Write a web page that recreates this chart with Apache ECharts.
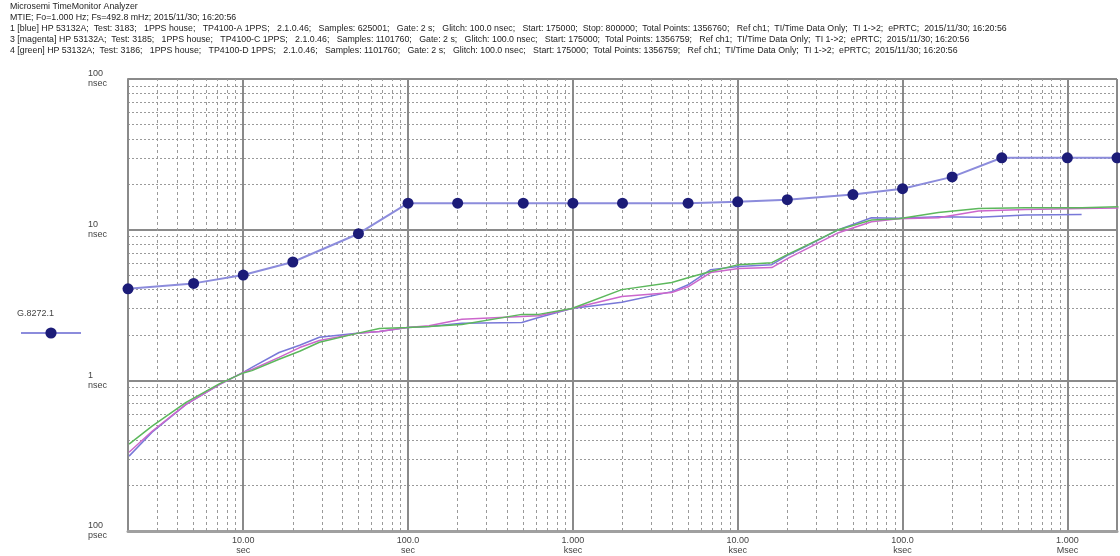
<!DOCTYPE html>
<html><head><meta charset="utf-8">
<script src="https://cdn.jsdelivr.net/npm/echarts@6/dist/echarts.min.js"></script>
<style>html,body{margin:0;padding:0;background:#fff}#c{width:1120px;height:556px}</style>
</head><body><div id="c"></div>
<script>
// ---- header text ----
const headerLines = [
  'Microsemi TimeMonitor Analyzer',
  'MTIE; Fo=1.000 Hz; Fs=492.8 mHz; 2015/11/30; 16:20:56',
  '1 [blue] HP 53132A;  Test: 3183;   1PPS house;   TP4100-A 1PPS;   2.1.0.46;   Samples: 625001;   Gate: 2 s;   Glitch: 100.0 nsec;   Start: 175000;  Stop: 800000;  Total Points: 1356760;   Ref ch1;  TI/Time Data Only;  TI 1->2;  ePRTC;  2015/11/30; 16:20:56',
  '3 [magenta] HP 53132A;  Test: 3185;   1PPS house;   TP4100-C 1PPS;   2.1.0.46;   Samples: 1101760;   Gate: 2 s;   Glitch: 100.0 nsec;   Start: 175000;  Total Points: 1356759;   Ref ch1;  TI/Time Data Only;  TI 1->2;  ePRTC;  2015/11/30; 16:20:56',
  '4 [green] HP 53132A;  Test: 3186;   1PPS house;   TP4100-D 1PPS;   2.1.0.46;   Samples: 1101760;   Gate: 2 s;   Glitch: 100.0 nsec;   Start: 175000;  Total Points: 1356759;   Ref ch1;  TI/Time Data Only;  TI 1->2;  ePRTC;  2015/11/30; 16:20:56'
];
const legendName = 'G.8272.1';

// ---- data (tau in seconds, MTIE in nanoseconds) ----
const curveTau = [2.03, 2.8, 4.5, 7.2, 10, 11.3, 16.5, 22, 29, 49, 67, 99, 134, 212, 490, 620, 986, 1980, 3980, 5050, 6850, 10100, 16100, 20400, 25800, 40900, 64800, 94600, 165000, 289000, 556000, 1220000, 2040000];
const blueValues = [0.314, 0.453, 0.693, 0.94, 1.13, 1.22, 1.53, 1.71, 1.93, 2.05, 2.11, 2.24, 2.28, 2.39, 2.42, 2.61, 3.0, 3.3, 3.88, 4.33, 5.43, 5.69, 5.86, 6.82, 7.71, 10.0, 12.0, 11.9, 12.2, 12.1, 12.5, 12.6];
const magentaValues = [0.333, 0.459, 0.693, 0.94, 1.13, 1.18, 1.42, 1.65, 1.84, 2.05, 2.11, 2.24, 2.30, 2.54, 2.65, 2.68, 3.0, 3.6, 3.83, 4.20, 5.19, 5.52, 5.6, 6.5, 7.4, 9.55, 11.3, 11.8, 12.0, 13.3, 13.6, 13.8, 13.9];
const greenValues = [0.377, 0.496, 0.714, 0.95, 1.12, 1.16, 1.38, 1.56, 1.79, 2.05, 2.21, 2.24, 2.28, 2.35, 2.74, 2.74, 3.0, 4.0, 4.46, 4.81, 5.27, 5.86, 6.04, 6.9, 7.8, 10.0, 11.6, 11.8, 13.0, 13.8, 14.0, 14.0, 14.2];
const maskTau = [2, 5, 10, 20, 50, 100, 200, 500, 1000, 2000, 5000, 10000, 20000, 50000, 100000, 200000, 400000, 1000000, 2000000];
const maskValues = [4.05, 4.4, 5.0, 6.1, 9.4, 15.0, 15.0, 15.0, 15.0, 15.0, 15.0, 15.3, 15.8, 17.1, 18.7, 22.4, 30, 30, 30];

// ---- axis tick labels ----
const xTickExp = [1, 2, 3, 4, 5, 6];
const xTickText = ['10.00\nsec', '100.0\nsec', '1.000\nksec', '10.00\nksec', '100.0\nksec', '1.000\nMsec'];
const yTickExp = [-1, 0, 1, 2];
const yTickText = ['100\npsec', '1\nnsec', '10\nnsec', '100\nnsec'];
const xMin = 2, xMax = 2000000, yMin = 0.1, yMax = 100;
const gridMantissas = [2, 3, 4, 5, 6, 7, 8, 9];

const xMinorGrid = [];
for (let e = 0; e <= 6; e++) {
  gridMantissas.forEach(m => {
    const v = m * Math.pow(10, e);
    if (v > xMin * 1.0001 && v < xMax * 0.9999) xMinorGrid.push(v);
  });
}

function labelFor(v, exps, texts) {
  const l = Math.log10(v), r = Math.round(l);
  if (Math.abs(l - r) > 1e-6) return '';
  const i = exps.indexOf(r);
  return i < 0 ? '' : texts[i];
}
const pairs = (xs, ys) => ys.map((y, i) => [xs[i], y]);

const chart = echarts.init(document.getElementById('c'), null, {renderer: 'canvas'});
const FONT = 'Liberation Sans, Arial, sans-serif';
chart.setOption({
  animation: false,
  backgroundColor: '#ffffff',
  title: [{
    text: headerLines.join('\n'),
    left: 5, top: -4,
    textStyle: {fontSize: 8.8, lineHeight: 11, fontWeight: 'normal', color: '#222', fontFamily: FONT}
  }, {
    text: legendName,
    left: 12, top: 304,
    textStyle: {fontSize: 9, fontWeight: 'normal', color: '#444', fontFamily: FONT}
  }],
  legend: {
    data: [legendName],
    left: 15, top: 321,
    itemWidth: 60, itemHeight: 14,
    formatter: () => '',
    selectedMode: false
  },
  grid: {left: 128, top: 79, right: 0, bottom: 24, containLabel: false},
  xAxis: {
    type: 'log', logBase: 10, min: xMin, max: xMax,
    axisLine: {show: true, lineStyle: {color: '#a0a0a0', width: 3}},
    axisTick: {show: false},
    axisLabel: {
      formatter: v => labelFor(v, xTickExp, xTickText),
      fontSize: 9, lineHeight: 10, color: '#444', fontFamily: FONT, margin: 5,
      showMinLabel: true, showMaxLabel: true
    },
    splitLine: {show: true, lineStyle: {color: '#8a8a8a', width: 2}},
    minorTick: {show: false},
    minorSplitLine: {show: false}
  },
  yAxis: {
    type: 'log', logBase: 10, min: yMin, max: yMax,
    axisLine: {show: true, lineStyle: {color: '#8a8a8a', width: 2}},
    axisTick: {show: false},
    axisLabel: {
      formatter: v => labelFor(v, yTickExp, yTickText),
      fontSize: 9, lineHeight: 10, color: '#444', fontFamily: FONT,
      align: 'left', margin: 40
    },
    splitLine: {show: true, lineStyle: {color: '#8a8a8a', width: 2}},
    minorTick: {show: false, splitNumber: 9},
    minorSplitLine: {show: true, lineStyle: {color: '#9a9a9a', width: 1, type: [2, 2]}}
  },
  series: [
    {
      name: 'grid', type: 'line', data: [], silent: true, z: 1,
      markLine: {
        silent: true, symbol: ['none', 'none'], label: {show: false}, animation: false, z: 1,
        lineStyle: {color: '#9a9a9a', width: 1, type: [3, 3]},
        data: xMinorGrid.map(v => ({xAxis: v}))
      }
    },
    {
      name: '1 blue', type: 'line', data: pairs(curveTau, blueValues), showSymbol: false, symbol: 'none',
      lineStyle: {color: '#7878d8', width: 1.5}, z: 4
    },
    {
      name: '3 magenta', type: 'line', data: pairs(curveTau, magentaValues), showSymbol: false, symbol: 'none',
      lineStyle: {color: '#cc66cc', width: 1.5}, z: 4
    },
    {
      name: '4 green', type: 'line', data: pairs(curveTau, greenValues), showSymbol: false, symbol: 'none',
      lineStyle: {color: '#5cb85c', width: 1.5}, z: 4
    },
    {
      name: legendName, type: 'line', data: pairs(maskTau, maskValues),
      symbol: 'circle', symbolSize: 11, showSymbol: true,
      lineStyle: {color: '#8c8cdc', width: 2},
      itemStyle: {color: '#1c1c78', borderWidth: 0},
      z: 5
    }
  ]
});
</script></body></html>
